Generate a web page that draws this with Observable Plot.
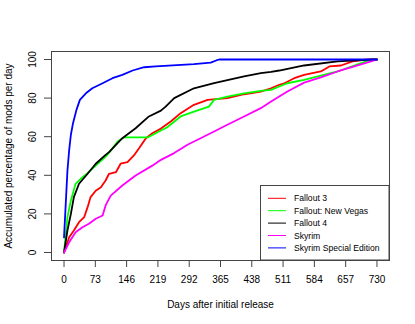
<!DOCTYPE html>
<html>
<head>
<meta charset="utf-8">
<script src="https://cdn.jsdelivr.net/npm/d3@7"></script>
<script src="https://cdn.jsdelivr.net/npm/@observablehq/plot@0.6"></script>
<style>
  html, body { margin: 0; padding: 0; background: white; }
  svg { display: block; }
</style>
</head>
<body>
<div id="chart"></div>
<script>
const seriesNames = ["Fallout 3", "Fallout: New Vegas", "Fallout 4", "Skyrim", "Skyrim Special Edition"];
const seriesColors = ["#ff0000", "#00ff00", "#000000", "#ff00ff", "#0000ff"];
const xTicks = [0, 73, 146, 219, 292, 365, 438, 511, 584, 657, 730];
const yTicks = [0, 20, 40, 60, 80, 100];

// [day, accumulated %]
const fallout3 = [[0,0],[12,7.9],[23,11.4],[35,15.7],[47,18.3],[55,23.5],[62,28.7],[74,32],[86,33.8],[97,37.3],[105,40.8],[121,41.6],[132,46],[148,46.8],[163,50.3],[175,54],[191,59.2],[206,61.8],[226,64.2],[249,67.9],[272,72.2],[303,76.5],[335,79.1],[381,80],[420,82],[459,83.4],[483,85.1],[502,86.9],[514,87.7],[537,90.3],[560,92],[599,93.8],[619,96.4],[646,96.9],[673,99],[700,99.8],[730,100]];
const falloutNV = [[0,0],[8,18.3],[16,27],[27,35.6],[39,38.2],[54,41],[74,45],[97,49.7],[109,52.8],[125,57.5],[140,59.6],[195,59.6],[214,61.8],[226,63.2],[240,64.8],[272,70.5],[303,73],[338,75.6],[350,79.1],[381,80.8],[420,82.5],[459,83.7],[483,84.3],[502,86],[521,87.7],[560,89.5],[599,91.7],[638,93.8],[677,96.9],[708,99.3],[730,100]];
const fallout4 = [[0,0],[8,11.4],[16,20],[23,28.7],[35,35.6],[55,40.8],[74,46],[97,50.6],[105,52],[136,59.2],[167,64.4],[198,70.5],[226,73.5],[237,75.6],[257,80],[303,85.1],[350,87.7],[420,91.2],[459,92.9],[483,93.6],[502,94.3],[560,96.9],[638,99],[716,100],[730,100]];
const skyrim = [[0,0],[12,5.3],[27,10.5],[43,13.1],[58,14.9],[74,17.5],[90,19.2],[97,24.4],[109,29.5],[136,34.7],[167,39.9],[206,45],[226,48],[257,51.5],[288,55.8],[342,61.8],[381,66.2],[420,70.5],[459,74.8],[483,78.2],[502,80.8],[521,83.4],[560,88],[599,90.7],[638,93.8],[677,96.4],[716,99],[730,100]];
const skyrimSE = [[0,7.8],[8,42.5],[12,53],[16,61],[21,67],[29,73.9],[37,79.1],[51,82.5],[66,85.1],[90,87.7],[113,90.3],[136,92],[160,94.3],[187,96],[214,96.4],[303,97.6],[342,98.4],[355,99.5],[362,100],[730,100]];

const seriesValues = [fallout3, falloutNV, fallout4, skyrim, skyrimSE];
const table = seriesValues.flatMap((arr, i) => arr.map(([day, pct]) => ({series: seriesNames[i], day, pct})));

const font = "'Liberation Sans', Arial, Helvetica, sans-serif";

const chart = Plot.plot({
  width: 415,
  height: 324,
  marginTop: 51,
  marginRight: 26,
  marginBottom: 64,
  marginLeft: 51,
  style: {fontFamily: font, fontSize: "10px", background: "white", color: "black"},
  x: {domain: [-29.2, 759.2]},
  y: {domain: [-4.15, 104.15]},
  color: {domain: seriesNames, range: seriesColors},
  marks: [
    Plot.axisX({ticks: xTicks, tickSize: 7, tickPadding: 8, label: null, stroke: "#444", fontSize: 10}),
    Plot.axisY({ticks: yTicks, tickSize: 7, tickPadding: 9, tickRotate: -90, label: null, stroke: "#444", fontSize: 10}),
    Plot.line(table, {x: "day", y: "pct", z: "series", stroke: "series", strokeWidth: 1.8, curve: "linear"}),
    Plot.frame({stroke: "#444", strokeWidth: 1}),
    Plot.text(["Days after initial release"], {frameAnchor: "bottom", dy: 44, fontSize: 10, lineAnchor: "middle"}),
    Plot.text(["Accumulated percentage of mods per day"], {frameAnchor: "left", dx: -43, rotate: -90, fontSize: 10, lineAnchor: "middle", textAnchor: "middle"})
  ]
});

// legend (bottomright, inside the plot box)
const svg = d3.select(chart);
const lg = svg.append("g").attr("font-family", font).attr("font-size", 8.6).attr("text-anchor", "start");
lg.append("rect").attr("x", 260.5).attr("y", 185.5).attr("width", 128.5).attr("height", 74.5)
  .attr("fill", "white").attr("stroke", "#444");
seriesNames.forEach((name, i) => {
  const y = 198.3 + i * 12.4;
  lg.append("line").attr("x1", 268).attr("x2", 286).attr("y1", y).attr("y2", y)
    .attr("stroke", seriesColors[i]).attr("stroke-width", 1);
  lg.append("text").attr("x", 294).attr("y", y).attr("dy", "0.35em").attr("text-anchor", "start").text(name);
});

document.getElementById("chart").append(chart);
</script>
</body>
</html>
